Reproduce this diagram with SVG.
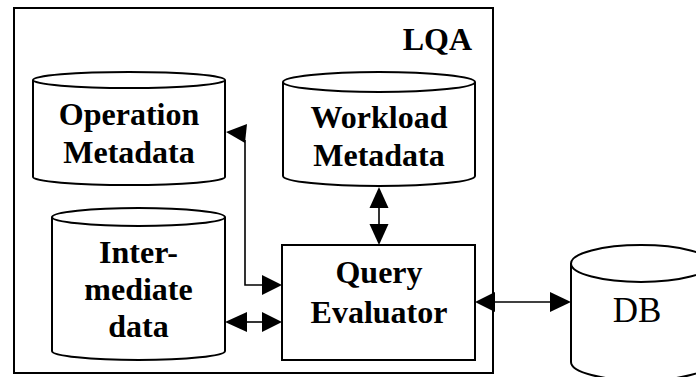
<svg xmlns="http://www.w3.org/2000/svg" width="696" height="377" viewBox="0 0 696 377">
  <style>
    .frame { fill: none; stroke: #000; stroke-width: 2; }
    .cyl { fill: #fff; stroke: #000; stroke-width: 2; }
    .box { fill: #fff; stroke: #000; stroke-width: 2; }
    .lbl { font-family: "Liberation Serif", "Times New Roman", serif; font-size: 32px; font-weight: bold; fill: #000; text-anchor: middle; }
    .db { font-family: "Liberation Serif", "Times New Roman", serif; font-size: 35px; fill: #000; text-anchor: middle; }
    .wire { fill: none; stroke: #000; stroke-width: 1.6; }
    .head { fill: #000; stroke: none; }
  </style>
  <rect width="696" height="377" fill="#fff"/>

  <!-- LQA container -->
  <g id="lqa">
    <rect class="frame" x="14" y="8" width="479" height="365"/>
    <text class="lbl" x="472" y="50" style="text-anchor:end">LQA</text>
  </g>

  <!-- Operation Metadata store -->
  <g id="operation-metadata">
    <path class="cyl" d="M33,80 L33,177 A96,8 0 0 0 225,177 L225,80 A96,8 0 0 0 33,80 A96,8 0 0 0 225,80"/>
    <text class="lbl" x="129" y="125">Operation</text>
    <text class="lbl" x="129" y="163">Metadata</text>
  </g>

  <!-- Workload Metadata store -->
  <g id="workload-metadata">
    <path class="cyl" d="M283,82 L283,176 A96,10 0 0 0 475,176 L475,82 A96,10 0 0 0 283,82 A96,10 0 0 0 475,82"/>
    <text class="lbl" x="379" y="128">Workload</text>
    <text class="lbl" x="379" y="166">Metadata</text>
  </g>

  <!-- Intermediate data store -->
  <g id="intermediate-data">
    <path class="cyl" d="M52,217 L52,351 A86.5,9 0 0 0 225,351 L225,217 A86.5,9 0 0 0 52,217 A86.5,9 0 0 0 225,217"/>
    <text class="lbl" x="138.5" y="263">Inter-</text>
    <text class="lbl" x="138.5" y="300">mediate</text>
    <text class="lbl" x="138.5" y="337">data</text>
  </g>

  <!-- Query Evaluator -->
  <g id="query-evaluator">
    <rect class="box" x="282" y="245" width="193" height="115"/>
    <text class="lbl" x="379" y="283">Query</text>
    <text class="lbl" x="379" y="323">Evaluator</text>
  </g>

  <!-- DB store -->
  <g id="db">
    <path class="cyl" d="M571,263.5 L571,362 A70,18.5 0 0 0 711,362 L711,263.5 A70,18.5 0 0 0 571,263.5 A70,18.5 0 0 0 711,263.5"/>
    <text class="db" x="637" y="322">DB</text>
  </g>

  <!-- connectors -->
  <g id="connectors">
    <!-- Query Evaluator to Operation Metadata (elbow) -->
    <polyline class="wire" points="262,285 245,285 245,140"/>
    <polygon class="head" points="226,132 247,124 245,143"/>
    <polygon class="head" points="262,275 282,285 262,295"/>

    <!-- Intermediate data <-> Query Evaluator -->
    <line class="wire" x1="245" y1="322" x2="264" y2="322"/>
    <polygon class="head" points="225,322 247,312 247,332"/>
    <polygon class="head" points="282,322 262,312 262,332"/>

    <!-- Workload Metadata <-> Query Evaluator -->
    <line class="wire" x1="379" y1="206" x2="379" y2="226"/>
    <polygon class="head" points="379,187 369.5,208 388.5,208"/>
    <polygon class="head" points="379,245 369.5,224 388.5,224"/>

    <!-- Query Evaluator <-> DB -->
    <line class="wire" x1="493" y1="302" x2="552" y2="302"/>
    <polygon class="head" points="475,302 495,292 495,312"/>
    <polygon class="head" points="571,302 550,292 550,312"/>
  </g>
</svg>
